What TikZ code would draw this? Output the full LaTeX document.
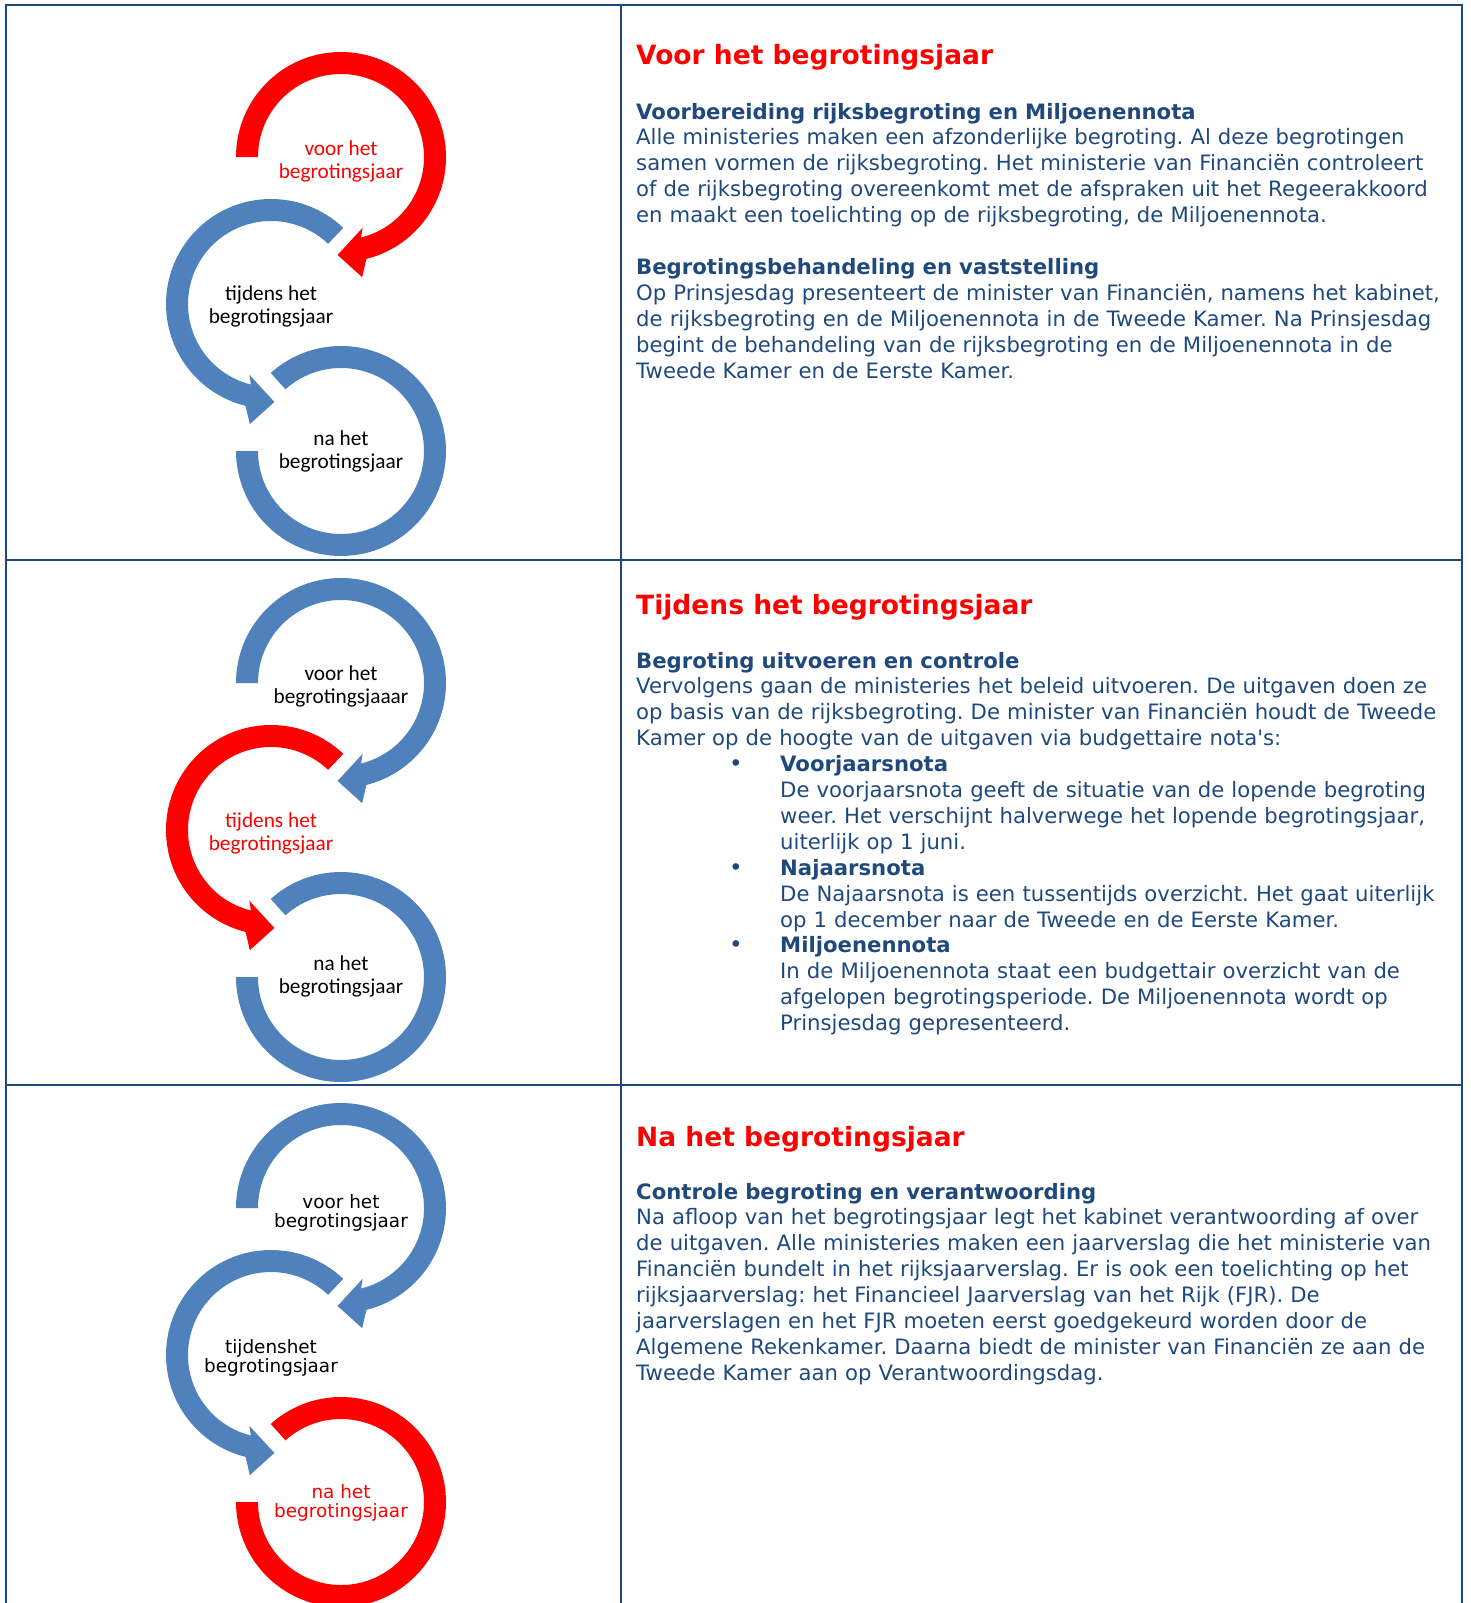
\documentclass[tikz,border=0pt]{standalone}
\usepackage{fontspec}
\setmainfont{DejaVu Sans}
\newfontfamily\calib{Carlito}
\newfontfamily\plainsans{DejaVu Sans}
\usetikzlibrary{positioning}
\definecolor{myred}{RGB}{255,0,0}
\definecolor{myblue}{RGB}{79,129,189}
\definecolor{navy}{RGB}{31,73,125}
\frenchspacing

\begin{document}
\begin{tikzpicture}[x=1pt,y=1pt,
  grid/.style={draw=navy,line width=2.5pt},
  head/.style={anchor=base west,inner sep=0pt,text=myred,font=\fontsize{26.5}{31}\selectfont\bfseries},
  txt/.style={inner sep=0pt,text=navy,align=left,text width=840pt,font=\fontsize{21.2}{25.9}\selectfont},
  lbl/.style={inner sep=0pt,align=center,font=\calib\fontsize{21.3}{23}\selectfont},
  lblb/.style={inner sep=0pt,align=center,font=\fontsize{18.4}{19.8}\selectfont},
  dot/.style={anchor=base,inner sep=0pt,text=navy,font=\fontsize{23}{25.9}\selectfont}]
\useasboundingbox (0,0) rectangle (1470,-1603);
% table
\draw[grid] (6,-1603) -- (6,-5) -- (1462,-5) -- (1462,-1603);
\draw[grid] (621,-5) -- (621,-1603);
\draw[grid] (6,-560) -- (1462,-560);
\draw[grid] (6,-1085) -- (1462,-1085);
% circular arrows, one set per row
\foreach \y/\ca/\cb/\cc in {157/myred/myblue/myblue,683/myblue/myred/myblue,1208/myblue/myblue/myred}{
  \fill[\ca,shift={(341,-\y)}] (180:105) arc[start angle=180,end angle=-76,radius=105]
    -- (-80:122) -- (-92:98) -- (-73:74) -- (-76:83)
    arc[start angle=-76,end angle=180,radius=83] -- cycle;
  \fill[\cb,shift={(271,-\y-147)}] (46.5:105) arc[start angle=46.5,end angle=256,radius=105]
    -- (260:122) -- (272:98) -- (253:74) -- (256:83)
    arc[start angle=256,end angle=46.5,radius=83] -- cycle;
  \fill[\cc,shift={(341,-\y-294)}] (132:105) arc[start angle=132,end angle=-180,radius=105]
    -- (180:83) arc[start angle=-180,end angle=132,radius=83] -- cycle;
}
% labels
\node[lbl,text=myred] (v1) at (341,-161.4) {voor het\\begrotingsjaar};
\node[lbl] (t1) at (271,-306.4) {tijdens het\\begrotingsjaar};
\node[lbl] (n1) at (341,-451.4) {na het\\begrotingsjaar};
\node[lbl] (v2) at (341,-686.4) {voor het\\begrotingsjaaar};
\node[lbl,text=myred] (t2) at (271,-833.4) {tijdens het\\begrotingsjaar};
\node[lbl] (n2) at (341,-976.4) {na het\\begrotingsjaar};
\node[lblb] (v3) at (341,-1213) {voor het\\begrotingsjaar};
\node[lblb] (t3) at (271,-1358) {tijdenshet\\begrotingsjaar};
\node[lblb,text=myred] (n3) at (341,-1503) {na het\\begrotingsjaar};
% first row
\node[head] (h1) at (636,-65) {Voor het begrotingsjaar};
\node[txt] (b1) [below=54pt of h1.base west,anchor=base west] {\textbf{Voorbereiding rijksbegroting en Miljoenennota}\\
Alle ministeries maken een afzonderlijke begroting. Al deze begrotingen\\
samen vormen de rijksbegroting. Het ministerie van Financiën controleert\\
of de rijksbegroting overeenkomt met de afspraken uit het Regeerakkoord\\
en maakt een toelichting op de rijksbegroting, de Miljoenennota.\\[25.9pt]
\textbf{Begrotingsbehandeling en vaststelling}\\
Op Prinsjesdag presenteert de minister van Financiën, namens het kabinet,\\
de rijksbegroting en de Miljoenennota in de Tweede Kamer. Na Prinsjesdag\\
begint de behandeling van de rijksbegroting en de Miljoenennota in de\\
Tweede Kamer en de Eerste Kamer.};
% second row
\node[head] (h2) at (636,-614) {Tijdens het begrotingsjaar};
\node[txt] (b2) [below=54pt of h2.base west,anchor=base west] {\textbf{Begroting uitvoeren en controle}\\
Vervolgens gaan de ministeries het beleid uitvoeren. De uitgaven doen ze\\
op basis van de rijksbegroting. De minister van Financiën houdt de Tweede\\
Kamer op de hoogte van de uitgaven via budgettaire nota{\plainsans'}s:};
\node[txt,text width=700pt] (l2) [below right=103.6pt and 144pt of b2.base west,anchor=base west] {\textbf{Voorjaarsnota}\\
De voorjaarsnota geeft de situatie van de lopende begroting\\
weer. Het verschijnt halverwege het lopende begrotingsjaar,\\
uiterlijk op 1 juni.\\
\textbf{Najaarsnota}\\
De Najaarsnota is een tussentijds overzicht. Het gaat uiterlijk\\
op 1 december naar de Tweede en de Eerste Kamer.\\
\textbf{Miljoenennota}\\
In de Miljoenennota staat een budgettair overzicht van de\\
afgelopen begrotingsperiode. De Miljoenennota wordt op\\
Prinsjesdag gepresenteerd.};
\node[dot] (d1) at (736,-771.6) {•};
\node[dot] (d2) at (736,-875.2) {•};
\node[dot] (d3) at (736,-952.9) {•};
% third row
\node[head] (h3) at (636,-1146) {Na het begrotingsjaar};
\node[txt] (b3) [below=53pt of h3.base west,anchor=base west] {\textbf{Controle begroting en verantwoording}\\
Na afloop van het begrotingsjaar legt het kabinet verantwoording af over\\
de uitgaven. Alle ministeries maken een jaarverslag die het ministerie van\\
Financiën bundelt in het rijksjaarverslag. Er is ook een toelichting op het\\
rijksjaarverslag: het Financieel Jaarverslag van het Rijk (FJR). De\\
jaarverslagen en het FJR moeten eerst goedgekeurd worden door de\\
Algemene Rekenkamer. Daarna biedt de minister van Financiën ze aan de\\
Tweede Kamer aan op Verantwoordingsdag.};
\end{tikzpicture}
\end{document}
